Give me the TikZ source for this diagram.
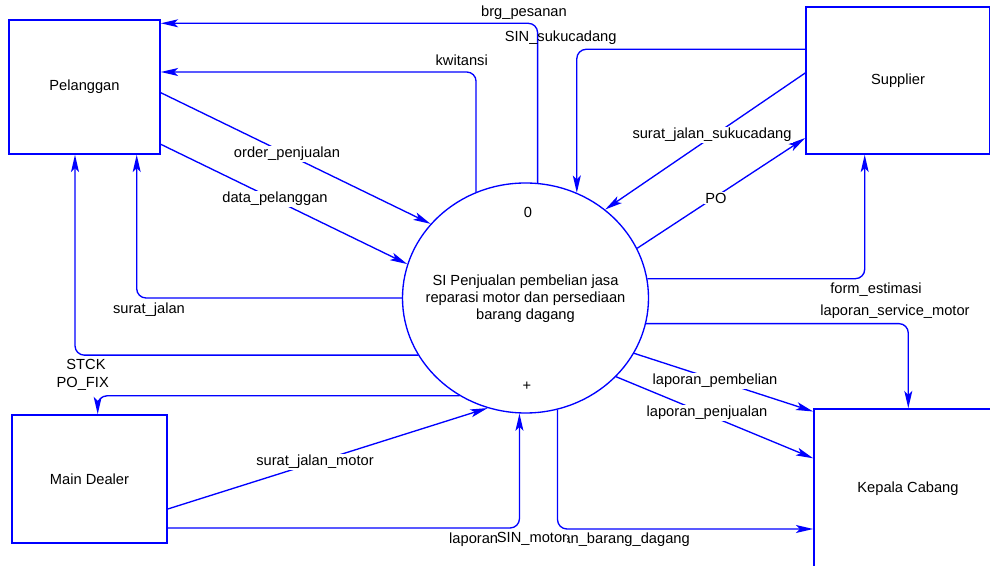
\documentclass[tikz,border=0pt]{standalone}
\usepackage{fontspec}
\setmainfont{Liberation Sans}
\usetikzlibrary{arrows.meta,shapes.geometric}

\begin{document}
\begin{tikzpicture}[x=0.75pt,y=0.75pt,yscale=-1,xscale=1,
  font=\fontsize{11}{13}\selectfont,
  entity/.style={draw=blue, line width=1.2pt, inner sep=0pt},
  process/.style={ellipse, draw=blue, line width=1pt, inner sep=0pt,
    minimum width=184.5pt, minimum height=172.5pt},
  flow/.style={draw=blue, line width=1pt, rounded corners=7pt,
    -{Stealth[length=13pt,width=6pt,inset=3pt]}},
  lbl/.style={inner sep=0.75pt},
  lblw/.style={lbl, fill=white}]
%set diagram size 990x566
\useasboundingbox (0,0) rectangle (990,566);
\clip (0,0) rectangle (990,566);

%Entities
\node [entity, minimum width=113.25pt, minimum height=100.5pt] (pel) at (84.5,87) {Pelanggan};
\node [entity, minimum width=138pt, minimum height=110.25pt] (sup) at (898,80.5) {Supplier};
\node [entity, minimum width=116.25pt, minimum height=96pt] (md) at (89.5,479) {Main Dealer};
\node [entity, minimum width=141pt, minimum height=120pt] (kc) at (908,489) {Kepala Cabang};

%Process
\node [process] (proc) at (525.5,298) {};
\node [align=center, font=\fontsize{11}{12.75}\selectfont] (proc-txt) at (525.5,299) {SI Penjualan pembelian jasa\\reparasi motor dan persediaan\\barang dagang};
\node [lbl] (proc-no) at (528,212) {0};
\node [lbl] (proc-plus) at (527,386) {+};

%Flows Pelanggan
\draw [flow] (pel.east |- 0,92.7) -- (proc.142);
\draw [flow] (pel.east |- 0,144.3) -- (proc.164);
\draw [flow] (proc.84) |- (pel.east |- 0,23.3);
\draw [flow] (proc.115) |- (pel.east |- 0,72);
\draw [flow] (proc.180) -| (pel.south -| 136.7,0);
\draw [flow] (proc.-152) -| (pel.south -| 75,0);

%Flows Supplier
\draw [flow] (sup.west |- 0,49.3) -| (proc.64);
\draw [flow] (sup.west |- 0,73) -- (proc.48.5);
\draw [flow] (proc.24) -- (sup.west |- 0,138);
\draw [flow] (proc.9) -| (sup.south -| 864.7,0);

%Flows Kepala Cabang
\draw [flow] (proc.-12) -| (kc.north -| 908.3,0);
\draw [flow] (proc.-27) -- (kc.west |- 0,411.5);
\draw [flow] (proc.-41) -- (kc.west |- 0,458.3);
\draw [flow] (proc.-74) |- (kc.west |- 0,529);

%Flows Main Dealer
\draw [flow] (md.east |- 0,509) -- (proc.-109);
\draw [flow] (md.east |- 0,528) -| (proc.-93);
\draw [flow] (proc.-124) -| (md.north -| 97.7,0);

% Text Node
\node [lbl] (t-brg) at (524,12.5) {brg\_pesanan};
\node [lbl] (t-sinsc) at (560.7,37.7) {SIN\_sukucadang};
\node [lbl] (t-kw) at (461.7,60.7) {kwitansi};
\node [lblw] (t-sjs) at (712,135) {surat\_jalan\_sukucadang};
\node [lblw] (t-po) at (716,198) {PO};
\node [lbl] (t-fe) at (876,290) {form\_estimasi};
\node [lbl] (t-lsm) at (895,312) {laporan\_service\_motor};
\node [lblw] (t-lpb) at (715,381) {laporan\_pembelian};
\node [lblw] (t-lpj) at (707,413) {laporan\_penjualan};
\node [lblw] (t-order) at (287,154) {order\_penjualan};
\node [lblw] (t-datap) at (275,199) {data\_pelanggan};
\node [lbl] (t-sj) at (149,310) {surat\_jalan};
\node [lbl] (t-stck) at (86,364) {STCK};
\node [lbl] (t-pofix) at (82.7,384) {PO\_FIX};
\node [lblw] (t-sjm) at (315,462) {surat\_jalan\_motor};
\node [lbl] (t-lpbd) at (569.5,540) {laporan\_persediaan\_barang\_dagang};
\node [lblw, inner sep=0pt] (t-sinm) at (532,539) {SIN\_motor};

\end{tikzpicture}
\end{document}
